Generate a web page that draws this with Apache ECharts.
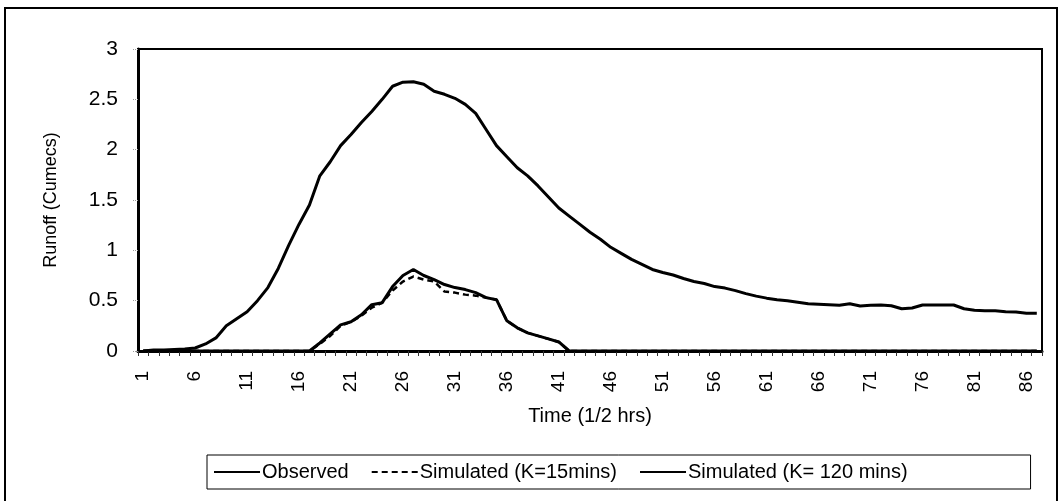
<!DOCTYPE html>
<html>
<head>
<meta charset="utf-8">
<script src="https://cdn.jsdelivr.net/npm/echarts@6/dist/echarts.min.js"></script>
<style>
html,body{margin:0;padding:0;background:#fff;}
#chart{width:1063px;height:501px;}
</style>
</head>
<body>
<div id="chart"></div>
<script>
// Time steps (1/2 hrs)
const categories = [];
for (let i = 1; i <= 87; i++) categories.push(String(i));

const observed = [
  0.00, 0.01, 0.01, 0.015, 0.02, 0.03, 0.07, 0.13, 0.25, 0.32,
  0.39, 0.50, 0.63, 0.82, 1.05, 1.26, 1.45, 1.74, 1.88, 2.04,
  2.15, 2.27, 2.38, 2.50, 2.63, 2.67, 2.675, 2.65, 2.58, 2.55,
  2.51, 2.45, 2.36, 2.20, 2.04, 1.93, 1.82, 1.74, 1.64, 1.53,
  1.42, 1.34, 1.26, 1.18, 1.11, 1.03, 0.97, 0.91, 0.86, 0.81,
  0.78, 0.755, 0.72, 0.69, 0.67, 0.64, 0.625, 0.60, 0.57, 0.545,
  0.525, 0.51, 0.50, 0.485, 0.47, 0.465, 0.46, 0.455, 0.47, 0.447,
  0.455, 0.457, 0.45, 0.42, 0.427, 0.457, 0.457, 0.457, 0.457, 0.42,
  0.405, 0.40, 0.40, 0.39, 0.387, 0.375, 0.374
];

const simK15 = [
  0, 0, 0, 0, 0, 0, 0, 0, 0, 0,
  0, 0, 0, 0, 0, 0, 0, 0.07, 0.15, 0.25,
  0.29, 0.35, 0.43, 0.48, 0.60, 0.69, 0.74, 0.71, 0.69, 0.59,
  0.58, 0.56, 0.55, 0.53, 0.51, 0.30, 0.23, 0.18, 0.15, 0.12,
  0.09, 0, 0, 0, 0, 0, 0, 0, 0, 0,
  0, 0, 0, 0, 0, 0, 0, 0, 0, 0,
  0, 0, 0, 0, 0, 0, 0, 0, 0, 0,
  0, 0, 0, 0, 0, 0, 0, 0, 0, 0,
  0, 0, 0, 0, 0, 0, 0
];

const simK120 = [
  0, 0, 0, 0, 0, 0, 0, 0, 0, 0,
  0, 0, 0, 0, 0, 0, 0, 0.08, 0.17, 0.26,
  0.29, 0.36, 0.46, 0.48, 0.64, 0.75, 0.81, 0.75, 0.71, 0.66,
  0.63, 0.61, 0.58, 0.53, 0.51, 0.30, 0.23, 0.18, 0.15, 0.12,
  0.09, 0, 0, 0, 0, 0, 0, 0, 0, 0,
  0, 0, 0, 0, 0, 0, 0, 0, 0, 0,
  0, 0, 0, 0, 0, 0, 0, 0, 0, 0,
  0, 0, 0, 0, 0, 0, 0, 0, 0, 0,
  0, 0, 0, 0, 0, 0, 0
];

const seriesNames = ['Observed', 'Simulated (K=15mins)', 'Simulated (K= 120 mins)'];
const yTicks = { min: 0, max: 3, interval: 0.5 };

const FONT = '"Liberation Sans", Arial, sans-serif';

const chart = echarts.init(document.getElementById('chart'), null, { renderer: 'canvas' });
chart.setOption({
  animation: false,
  backgroundColor: '#fff',
  textStyle: { fontFamily: FONT, color: '#000' },
  graphic: [{
    type: 'rect',
    shape: { x: 5, y: 8, width: 1052, height: 520 },
    style: { fill: 'none', stroke: '#000', lineWidth: 2 },
    silent: true, z: -1
  }],
  grid: {
    left: 138, right: 21, top: 49, bottom: 150,
    show: true, borderColor: '#000', borderWidth: 2, backgroundColor: '#fff'
  },
  legend: {
    left: 207, top: 455,
    data: seriesNames,
    itemWidth: 46, itemHeight: 6, itemGap: 22,
    padding: [7, 123, 7, 6],
    borderColor: '#000', borderWidth: 1, borderRadius: 0,
    itemStyle: { opacity: 0 },
    lineStyle: { width: 2 },
    textStyle: { fontFamily: FONT, fontSize: 20, color: '#000', padding: [0, 0, 0, -3] },
    selectedMode: false
  },
  xAxis: {
    type: 'category',
    data: categories,
    boundaryGap: true,
    name: 'Time (1/2 hrs)',
    nameLocation: 'middle',
    nameGap: 55,
    nameTextStyle: { fontFamily: FONT, fontSize: 20, color: '#000' },
    axisLine: { lineStyle: { color: '#000', width: 3 } },
    axisTick: { show: true, interval: 0, length: 5, lineStyle: { color: '#333', width: 1 } },
    axisLabel: { interval: 4, rotate: 90, margin: 20, fontSize: 19, color: '#000', fontFamily: FONT },
    splitLine: { show: false }
  },
  yAxis: {
    type: 'value',
    min: yTicks.min, max: yTicks.max, interval: yTicks.interval,
    name: 'Runoff (Cumecs)',
    nameLocation: 'middle',
    nameGap: 78,
    nameTextStyle: { fontFamily: FONT, fontSize: 18, color: '#000' },
    axisLine: { show: true, lineStyle: { color: '#000', width: 3 } },
    axisTick: { show: true, length: 6, lineStyle: { color: '#999', width: 1, type: 'dotted' } },
    axisLabel: { margin: 20, fontSize: 21, color: '#000', fontFamily: FONT },
    splitLine: { show: false }
  },
  series: [
    {
      name: seriesNames[0], type: 'line', data: observed,
      symbol: 'none', smooth: false,
      lineStyle: { color: '#000', width: 3 }, itemStyle: { color: '#000' }, z: 3
    },
    {
      name: seriesNames[1], type: 'line', data: simK15,
      symbol: 'none',
      lineStyle: { color: '#000', width: 2.5, type: [6, 4] }, itemStyle: { color: '#000' }, z: 4
    },
    {
      name: seriesNames[2], type: 'line', data: simK120,
      symbol: 'none',
      lineStyle: { color: '#000', width: 3 }, itemStyle: { color: '#000' }, z: 5
    }
  ]
});
</script>
</body>
</html>
